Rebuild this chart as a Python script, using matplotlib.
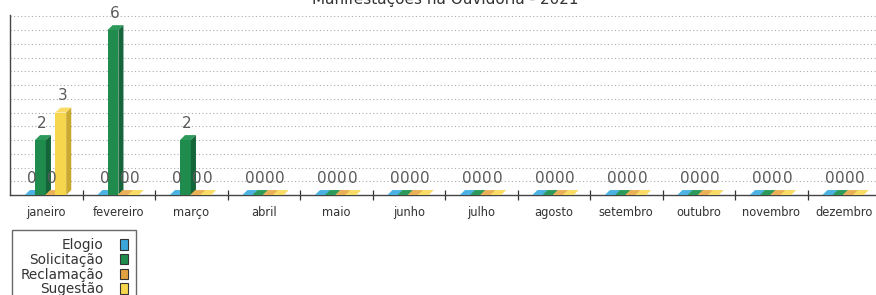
import numpy as np
import matplotlib
matplotlib.use("Agg")
import matplotlib.pyplot as plt
from matplotlib.patches import Patch

months = ['janeiro', 'fevereiro', 'março', 'abril', 'maio', 'junho', 'julho',
          'agosto', 'setembro', 'outubro', 'novembro', 'dezembro']
series_names = ['Elogio', 'Solicitação', 'Reclamação', 'Sugestão']
elogio = [0, 0, 0, 0, 0, 0, 0, 0, 0, 0, 0, 0]
solicitacao = [2, 6, 2, 0, 0, 0, 0, 0, 0, 0, 0, 0]
reclamacao = [0, 0, 0, 0, 0, 0, 0, 0, 0, 0, 0, 0]
sugestao = [3, 0, 0, 0, 0, 0, 0, 0, 0, 0, 0, 0]
title = 'Manifestações na Ouvidoria - 2021'

series = [elogio, solicitacao, reclamacao, sugestao]
front = ['#3aa6da', '#1f8b4c', '#e3a240', '#f6d64c']
side = ['#2a7fa8', '#15653a', '#b57c2c', '#c9a930']
top = ['#4cb2e2', '#2c9a5a', '#eab058', '#f8dc66']

fig = plt.figure(figsize=(8.76, 2.95), dpi=100)
ax = fig.add_axes([10 / 876, 1 - 195 / 295, 870 / 876, (195 - 15) / 295])
ax.set_xlim(-0.5, len(months) - 0.5)
ax.set_ylim(0, 6.55)

x = np.arange(len(months))
width = 0.15
offsets = [-0.22, -0.08, 0.06, 0.20]
dx, dy = 0.07, 0.18

for i, vals in enumerate(series):
    vals = np.asarray(vals, dtype=float)
    xc = x + offsets[i]
    ax.bar(xc, vals, width=width, color=front[i], linewidth=0, zorder=3 + i)
    for c, v in zip(xc, vals):
        a, b = c - width / 2, c + width / 2
        ax.fill([a, b, b + dx, a + dx], [v, v, v + dy, v + dy],
                color=top[i], linewidth=0, zorder=3 + i)
        if v > 0:
            ax.fill([b, b + dx, b + dx, b], [0, dy, v + dy, v],
                    color=side[i], linewidth=0, zorder=3 + i)
        ax.annotate(f'{int(v)}', (c + dx / 3, v + dy),
                    xytext=(0, 3), textcoords='offset points',
                    ha='center', va='bottom', fontsize=11, color='#5a5a5a',
                    zorder=10)

ax.set_yticks(np.arange(0.5, 6.51, 0.5))
ax.yaxis.grid(True, linestyle=(0, (1, 2.2)), color='#aaaaaa', linewidth=0.8)
ax.set_axisbelow(True)
ax.tick_params(axis='y', length=0, labelleft=False)

ax.set_xticks(x)
ax.set_xticklabels(months, fontsize=8.3, color='#333333')
ax.tick_params(axis='x', which='major', length=0, pad=8)
ax.set_xticks(x[:-1] + 0.5, minor=True)
ax.tick_params(axis='x', which='minor', direction='inout', length=7,
               width=0.9, color='#333333')

for s in ['top', 'right']:
    ax.spines[s].set_visible(False)
for s in ['left', 'bottom']:
    ax.spines[s].set_color('#444444')
    ax.spines[s].set_linewidth(1.0)

fig.text(445 / 876, 1 - 4 / 295, title, ha='center', va='baseline',
         fontsize=11, color='#333333')

handles = [Patch(facecolor=front[i], edgecolor='#333333', linewidth=0.8)
           for i in range(4)]
leg = fig.legend(handles, series_names, loc='upper left',
                 bbox_to_anchor=(12 / 876, 1 - 230 / 295),
                 markerfirst=False, fontsize=9.8, frameon=True, fancybox=False,
                 edgecolor='#444444', handlelength=0.6, handleheight=0.8,
                 handletextpad=1.2, labelspacing=0.05, borderpad=0.6,
                 borderaxespad=0)
leg.get_frame().set_linewidth(1.0)
for t in leg.get_texts():
    t.set_color('#333333')

fig.savefig('out.png', dpi=100, facecolor='white')
